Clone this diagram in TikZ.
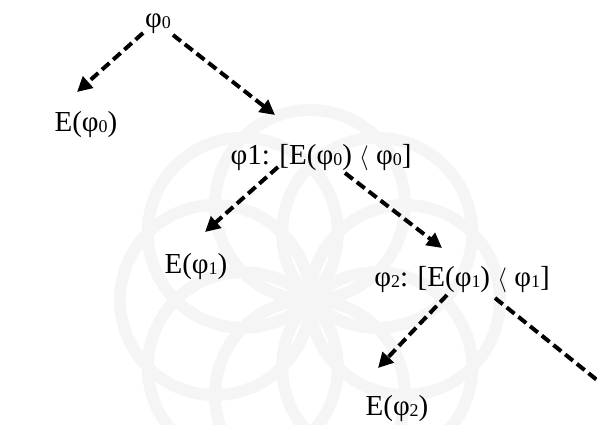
\documentclass[tikz,border=0pt]{standalone}
\usepackage{fontspec}
\usepackage{graphicx}
\setmainfont{Liberation Serif}
\usetikzlibrary{arrows.meta}
\newcommand\sbs[1]{\raisebox{-1.5pt}{\scalebox{0.62}{#1}}}
\newcommand\lang{\raisebox{0pt}{$\langle$}}
\tikzset{
  lbl/.style={anchor=base, inner sep=0pt, font=\fontsize{29}{33}\selectfont},
  darr/.style={line width=4pt, dash pattern=on 10pt off 5pt, -{Triangle[length=15pt,width=15pt]}},
  dline/.style={line width=4pt, dash pattern=on 10pt off 5pt},
  wm/.style={draw=black!4, line width=12pt}
}
\begin{document}
\begin{tikzpicture}[x=1pt,y=-1pt]
\useasboundingbox (0,0) rectangle (597,424);
\begin{scope}
\clip (0,0) rectangle (597,424);
\foreach \a in {0,45,...,315}{
  \draw[wm] (310,300) ++(\a:95) circle (95);
}
\end{scope}
\node[lbl] (n0) at (158,27) {φ\sbs{0}};
\node[lbl] (e0) at (86,131) {E(φ\sbs{0})};
\node[lbl] (n1) at (321,164) {φ1: [E(φ\sbs{0}) \lang\ φ\sbs{0}]};
\node[lbl] (e1) at (196,273) {E(φ\sbs{1})};
\node[lbl] (n2) at (462,286) {φ\sbs{2}: [E(φ\sbs{1}) \lang\ φ\sbs{1}]};
\node[lbl] (e2) at (397,415) {E(φ\sbs{2})};
\coordinate (off) at (597,380);
\draw[darr] ([shift={(-15,6)}]n0.base) -- ([shift={(-9,-39)}]e0.base);
\draw[darr] ([shift={(15,8)}]n0.base) -- ([shift={(-46,-49)}]n1.base);
\draw[darr] ([shift={(-43,3)}]n1.base) -- ([shift={(9,-41)}]e1.base);
\draw[darr] ([shift={(24,9)}]n1.base) -- ([shift={(-20,-38)}]n2.base);
\draw[darr] ([shift={(-15,9)}]n2.base) -- ([shift={(-19,-47)}]e2.base);
\draw[dline] ([shift={(33,12)}]n2.base) -- (off);
\end{tikzpicture}
\end{document}
